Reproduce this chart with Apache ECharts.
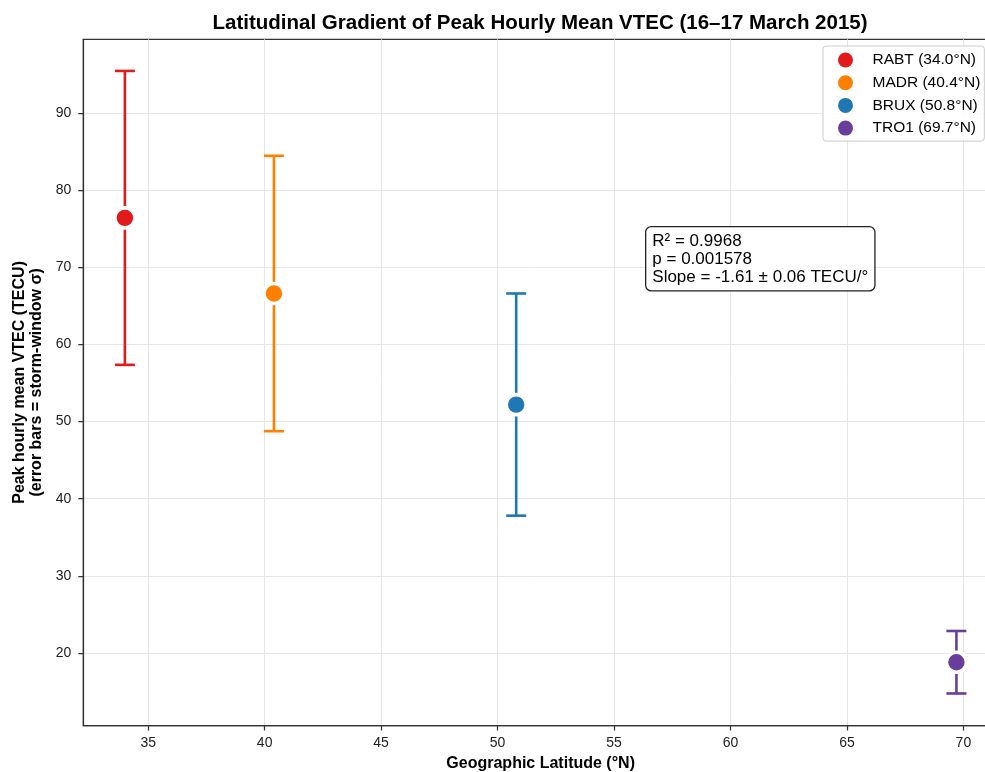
<!DOCTYPE html>
<html>
<head>
<meta charset="utf-8">
<script src="https://cdn.jsdelivr.net/npm/echarts@6/dist/echarts.min.js"></script>
<style>
html,body{margin:0;padding:0;background:#fff;}
#chart{width:985px;height:772px;}
</style>
</head>
<body>
<div id="chart"></div>
<script>
// ---- data ----
const stations = ['RABT (34.0°N)', 'MADR (40.4°N)', 'BRUX (50.8°N)', 'TRO1 (69.7°N)'];
const latitudes = [34.0, 40.4, 50.8, 69.7];
const peakMeans = [76.4, 66.6, 52.2, 18.8];
const stormSigmas = [19.05, 17.85, 14.4, 4.05];
const stationColors = ['#e31a1c', '#ff7f00', '#1f78b4', '#6a3d9a'];
const xTicks = [35, 40, 45, 50, 55, 60, 65, 70];
const yTicks = [20, 30, 40, 50, 60, 70, 80, 90];
const statsLines = ['R² = 0.9968', 'p = 0.001578', 'Slope = -1.61 ± 0.06 TECU/°'];

const FONT = 'Liberation Sans, Arial, sans-serif';

const errorData = latitudes.map((lat, i) => [lat, peakMeans[i] - stormSigmas[i], peakMeans[i] + stormSigmas[i], i]);

const chart = echarts.init(document.getElementById('chart'), null, {renderer: 'canvas'});

const scatterSeries = stations.map((name, i) => ({
  name: name,
  type: 'scatter',
  data: [[latitudes[i], peakMeans[i]]],
  symbol: 'circle',
  symbolSize: 20,
  itemStyle: {color: stationColors[i], borderColor: '#ffffff', borderWidth: 3.6, opacity: 1},
  emphasis: {disabled: true},
  z: 5
}));

const option = {
  animation: false,
  backgroundColor: '#ffffff',
  title: {
    text: 'Latitudinal Gradient of Peak Hourly Mean VTEC (16–17 March 2015)',
    left: 535, top: 8, textAlign: 'center',
    textStyle: {fontFamily: FONT, fontSize: 20.5, fontWeight: 'bold', color: '#000'}
  },
  grid: {
    left: 83.3, top: 39.3, width: 914.7, height: 686.2,
    containLabel: false, outerBoundsMode: 'none',
    show: true, borderColor: '#333', borderWidth: 1.25, backgroundColor: 'transparent'
  },
  xAxis: {
    type: 'value', min: 32.215, max: 71.485,
    name: 'Geographic Latitude (°N)', nameLocation: 'middle', nameGap: 29,
    nameTextStyle: {fontFamily: FONT, fontSize: 16, fontWeight: 'bold', color: '#000'},
    axisLine: {show: true, onZero: false, lineStyle: {color: '#333', width: 1.25}},
    axisTick: {show: true, length: 5, inside: false, customValues: xTicks, lineStyle: {color: '#333', width: 1.25}},
    axisLabel: {customValues: xTicks, margin: 11, fontFamily: FONT, fontSize: 14, color: '#222'},
    splitLine: {show: true, lineStyle: {color: '#e6e6e6', width: 1}}
  },
  yAxis: {
    type: 'value', min: 10.6, max: 99.55,
    name: 'Peak hourly mean VTEC (TECU)\n(error bars = storm-window σ)', nameLocation: 'middle', nameGap: 35,
    nameTextStyle: {fontFamily: FONT, fontSize: 16, fontWeight: 'bold', color: '#000', lineHeight: 17},
    axisLine: {show: true, onZero: false, lineStyle: {color: '#333', width: 1.25}},
    axisTick: {show: true, length: 5, inside: false, customValues: yTicks, lineStyle: {color: '#333', width: 1.25}},
    axisLabel: {customValues: yTicks, margin: 12, fontFamily: FONT, fontSize: 14, color: '#222'},
    splitLine: {show: true, lineStyle: {color: '#e6e6e6', width: 1}}
  },
  legend: {
    orient: 'vertical', left: 823, top: 46,
    data: stations,
    icon: 'circle', itemWidth: 44, itemHeight: 15, itemGap: 6.7,
    padding: [6, 4, 5, 15],
    borderColor: '#cccccc', borderWidth: 1, borderRadius: 3, backgroundColor: 'rgba(255,255,255,0.85)',
    itemStyle: {borderWidth: 0},
    textStyle: {fontFamily: FONT, fontSize: 15.5, color: '#000'},
    selectedMode: false
  },
  graphic: [{
    type: 'text', left: 645, top: 226, z: 100,
    style: {
      text: statsLines.join('\n'),
      fontFamily: FONT, fontSize: 17, lineHeight: 18, fill: '#000',
      backgroundColor: '#ffffff', borderColor: '#222', borderWidth: 1.3, borderRadius: 5,
      padding: [5, 6, 4, 6]
    }
  }],
  series: [{
    type: 'custom',
    name: 'errorbars',
    data: errorData,
    encode: {x: 0, y: [1, 2]},
    z: 2,
    silent: true,
    renderItem: function (params, api) {
      const x = api.value(0);
      const lo = api.coord([x, api.value(1)]);
      const hi = api.coord([x, api.value(2)]);
      const color = stationColors[api.value(3)];
      const hw = 10;
      const style = {stroke: color, lineWidth: 2.6, fill: null};
      return {
        type: 'group',
        children: [
          {type: 'line', shape: {x1: lo[0], y1: lo[1], x2: hi[0], y2: hi[1]}, style: style},
          {type: 'line', shape: {x1: lo[0] - hw, y1: lo[1], x2: lo[0] + hw, y2: lo[1]}, style: style},
          {type: 'line', shape: {x1: hi[0] - hw, y1: hi[1], x2: hi[0] + hw, y2: hi[1]}, style: style}
        ]
      };
    }
  }].concat(scatterSeries)
};

chart.setOption(option);
</script>
</body>
</html>
